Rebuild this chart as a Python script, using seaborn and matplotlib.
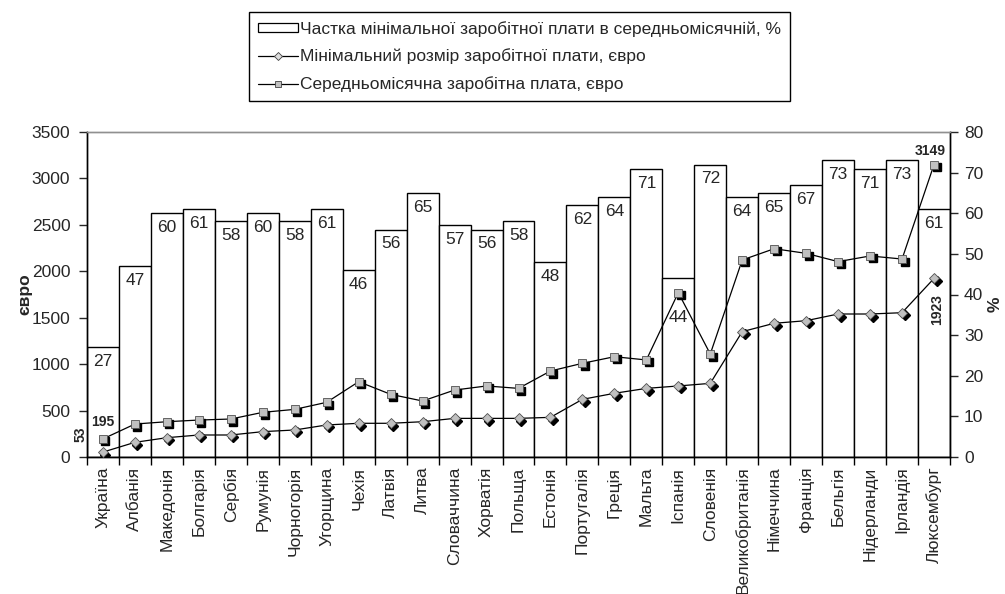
import numpy as np
import pandas as pd
import matplotlib
matplotlib.use("Agg")
import matplotlib.pyplot as plt
from matplotlib.transforms import offset_copy
from matplotlib.patches import Patch
from matplotlib.lines import Line2D
import seaborn as sns

countries = ["Україна", "Албанія", "Македонія", "Болгарія", "Сербія", "Румунія",
             "Чорногорія", "Угорщина", "Чехія", "Латвія", "Литва", "Словаччина",
             "Хорватія", "Польща", "Естонія", "Португалія", "Греція", "Мальта",
             "Іспанія", "Словенія", "Великобританія", "Німеччина", "Франція",
             "Бельгія", "Нідерланди", "Ірландія", "Люксембург"]
share_pct = [27, 47, 60, 61, 58, 60, 58, 61, 46, 56, 65, 57, 56, 58, 48, 62, 64,
             71, 44, 72, 64, 65, 67, 73, 71, 73, 61]
min_wage = [53, 158, 208, 237, 237, 273, 291, 345, 363, 363, 380, 416, 416, 416,
            427, 621, 686, 739, 765, 793, 1350, 1440, 1468, 1540, 1540, 1554, 1923]
avg_wage = [195, 355, 380, 398, 409, 481, 513, 589, 811, 675, 603, 721, 765, 739,
            926, 1009, 1080, 1045, 1770, 1109, 2122, 2243, 2193, 2104, 2165, 2132, 3149]

legend_labels = ["Частка мінімальної заробітної плати в середньомісячній, %",
                 "Мінімальний розмір заробітної плати, євро",
                 "Середньомісячна заробітна плата, євро"]

sns.set_style("ticks")
plt.rcParams['font.family'] = ['Liberation Sans', 'DejaVu Sans']
FS = 12.5

W, H = 1005, 594
fig = plt.figure(figsize=(W / 100, H / 100), dpi=100)
ax = fig.add_axes([87 / W, 1 - 457 / H, (950 - 87) / W, (457 - 132) / H])
ax2 = ax.twinx()
ax.set_zorder(ax2.get_zorder() + 1)
ax.patch.set_visible(False)

df = pd.DataFrame({"country": countries, "share": share_pct,
                   "pos": np.arange(len(countries)),
                   "minw": min_wage, "avgw": avg_wage})

# bars (percent, right axis)
sns.barplot(data=df, x="country", y="share", ax=ax2, color="white",
            edgecolor="black", linewidth=1.0, width=1.0, saturation=1)
ax2.set_ylim(0, 80)
ax2.set_xlim(-0.5, len(countries) - 0.5)
for i, v in enumerate(share_pct):
    dy = -23 if countries[i] == "Іспанія" else -5
    ax2.annotate(str(v), xy=(i, v), xytext=(0, dy), textcoords="offset points",
                 ha="center", va="top", fontsize=FS)

# lines (euro, left axis)
gray = "#c0c0c0"
for col, mk, ms in [("minw", "D", 5.2), ("avgw", "s", 5.8)]:
    shadow = offset_copy(ax.transData, fig=fig, x=2.5, y=-2.5, units="dots")
    ax.plot(df["pos"], df[col], linestyle="none", marker=mk, markersize=ms,
            color="black", transform=shadow, zorder=2.5)
    sns.lineplot(data=df, x="pos", y=col, ax=ax, color="black", linewidth=0.9,
                 marker=mk, markersize=ms, markerfacecolor=gray,
                 markeredgecolor="#505050", markeredgewidth=0.6, zorder=3)

ax.set_ylim(0, 3500)
ax.set_xlim(-0.5, len(countries) - 0.5)
ax.set_yticks(np.arange(0, 3501, 500))
ax2.set_yticks(np.arange(0, 81, 10))
ax.set_xticks(np.arange(len(countries)))
ax.set_xticklabels(countries, rotation=90, fontsize=FS)
ax.set_xticks(np.arange(-0.5, len(countries), 1), minor=True)
ax.tick_params(axis="x", which="major", length=0, pad=7)
ax.tick_params(axis="x", which="minor", length=6, width=1, color="black", direction="out")
ax.tick_params(axis="y", which="major", length=6, width=1, labelsize=FS, pad=6, direction="out")
ax2.tick_params(axis="y", which="major", length=6, width=1, labelsize=FS, pad=4, direction="out")
ax.set_xlabel("")
ax2.set_xlabel("")
ax.set_ylabel("євро", fontsize=FS, fontweight="bold")
ax2.set_ylabel("%", fontsize=FS, fontweight="bold")
ax.yaxis.set_label_coords(-0.063, 0.5)
ax2.yaxis.set_label_coords(1.044, 0.47)

for a in (ax, ax2):
    for s in a.spines.values():
        s.set_linewidth(1.0)
        s.set_color("black")
    a.spines["top"].set_color("#909090")

# annotations
ax.annotate(str(avg_wage[0]), xy=(0, avg_wage[0]), xytext=(0, 7), textcoords="offset points",
            ha="center", va="bottom", fontsize=10, fontweight="bold")
ax.annotate(str(min_wage[0]), xy=(0, min_wage[0]), xytext=(-16, 13), textcoords="offset points",
            ha="center", va="center", rotation=90, fontsize=10, fontweight="bold")
n = len(countries) - 1
ax.annotate(str(avg_wage[n]), xy=(n, avg_wage[n]), xytext=(-3, 5), textcoords="offset points",
            ha="center", va="bottom", fontsize=10, fontweight="bold")
ax.annotate(str(min_wage[n]), xy=(n, min_wage[n]), xytext=(2, -11), textcoords="offset points",
            ha="center", va="top", rotation=90, fontsize=10, fontweight="bold")

# legend
handles = [Patch(facecolor="white", edgecolor="black", linewidth=0.9),
           Line2D([], [], color="black", lw=0.9, marker="D", markersize=4,
                  markerfacecolor="#dddddd", markeredgecolor="#404040", markeredgewidth=0.6),
           Line2D([], [], color="black", lw=0.9, marker="s", markersize=4.5,
                  markerfacecolor=gray, markeredgecolor="#404040", markeredgewidth=0.6)]
leg = fig.legend(handles, legend_labels, loc="upper left",
                 bbox_to_anchor=(249 / W, 1 - 12 / H), fontsize=FS,
                 frameon=True, fancybox=False, edgecolor="black", framealpha=1,
                 handlelength=2.3, handleheight=0.4, handletextpad=0.15,
                 borderpad=0.5, labelspacing=0.68, borderaxespad=0)
leg.get_frame().set_linewidth(1.0)

fig.savefig("out.png", dpi=100)
